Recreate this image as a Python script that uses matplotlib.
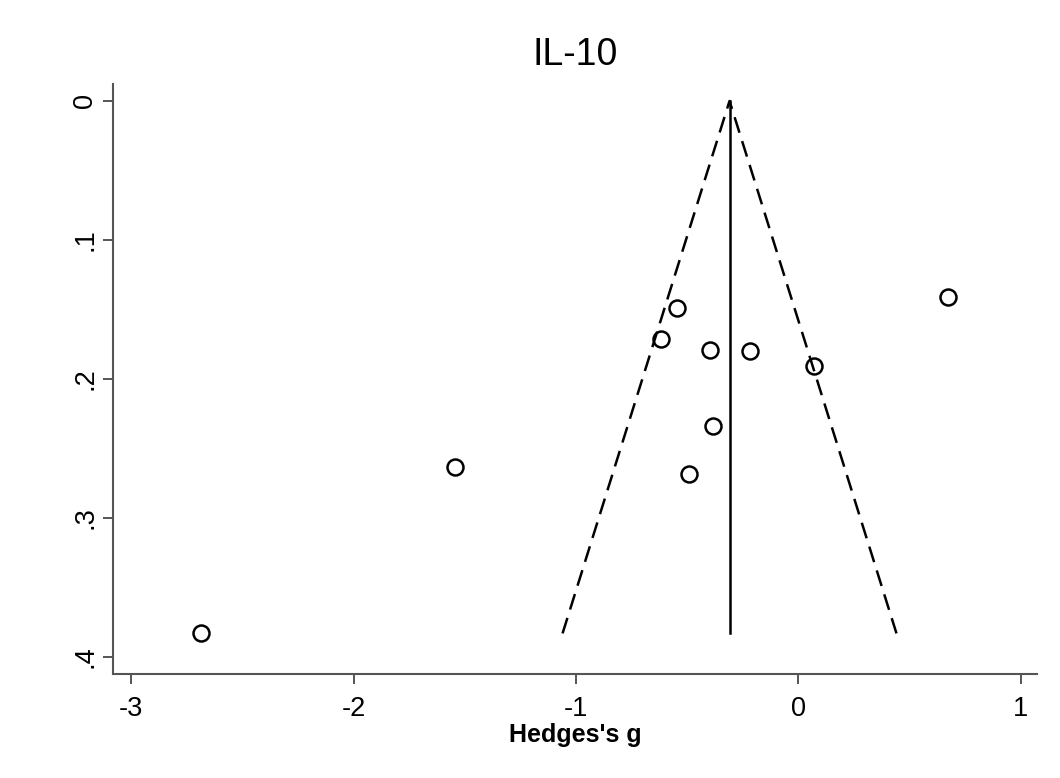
import matplotlib.pyplot as plt

plt.rcParams['font.family'] = ['Liberation Sans', 'DejaVu Sans']

# study effect sizes (Hedges's g) and their standard errors
g = [0.671, -0.547, -0.619, -0.399, -0.219, 0.069, -0.385, -1.545, -0.493, -2.686]
se = [0.141, 0.149, 0.171, 0.179, 0.180, 0.191, 0.234, 0.263, 0.268, 0.383]

pooled = -0.31
se_max = 0.383
z = 1.96

fig = plt.figure(figsize=(10.6, 7.78), dpi=100, facecolor='w')
ax = fig.add_axes([0.1066, 0.1337, 0.8714, 0.7583])

# pseudo 95% confidence limits
ax.plot([pooled - z * se_max, pooled, pooled + z * se_max], [se_max, 0, se_max],
        color='black', lw=1.8, ls=(0, (6.5, 3.5)))
ax.plot([pooled, pooled], [0, se_max], color='black', lw=1.8)
ax.plot(g, se, 'o', ms=11.5, mfc='none', mec='black', mew=1.8)

ax.set_xlim(-3.082, 1.071)
ax.set_ylim(0.4122, -0.0122)
ax.set_xticks([-3, -2, -1, 0, 1])
ax.set_xticklabels(['-3', '-2', '-1', '0', '1'])
ax.set_yticks([0, 0.1, 0.2, 0.3, 0.4])
ax.set_yticklabels(['0', '.1', '.2', '.3', '.4'], rotation=90, va='center')

for side in ['top', 'right']:
    ax.spines[side].set_visible(False)
for side in ['left', 'bottom']:
    ax.spines[side].set_color('#555555')
    ax.spines[side].set_linewidth(1.5)
ax.tick_params(length=7.5, width=1.4, color='#555555', labelsize=19.5)
ax.tick_params(axis='x', pad=8)
ax.tick_params(axis='y', pad=3)

ax.set_title('IL-10', fontsize=27, pad=14)
ax.set_xlabel("Hedges's g", fontsize=18, fontweight='bold', labelpad=1)

plt.savefig('out.png', dpi=100, facecolor='w')
